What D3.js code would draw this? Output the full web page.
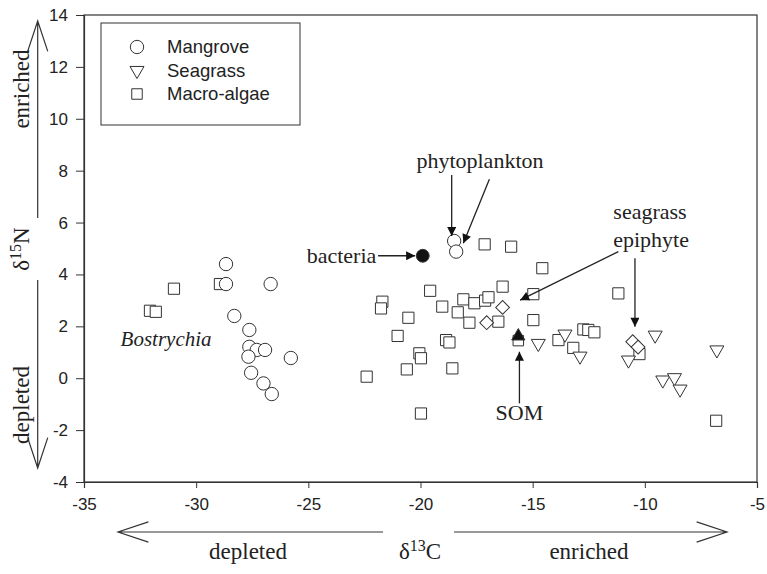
<!DOCTYPE html>
<html>
<head>
<meta charset="utf-8">
<title>d13C vs d15N</title>
<script src="https://d3js.org/d3.v7.min.js"></script>
<style>
  body { margin: 0; background: #fff; }
  text { fill: #222; }
  .tick text { font-family: "Liberation Sans", Arial, sans-serif; font-size: 17px; }
  .serif { font-family: "Liberation Serif", "Times New Roman", serif; font-size: 22px; }
</style>
</head>
<body>
<div id="chart"></div>
<script>
// values: [d13C, d15N]
var mangrove = [[-28.67,4.4],[-28.67,3.63],[-26.68,3.63],[-28.3,2.4],[-27.63,1.86],[-27.63,1.21],
  [-27.3,1.09],[-26.93,1.09],[-27.67,0.83],[-25.78,0.78],[-27.55,0.21],[-27.0,-0.2],[-26.63,-0.61]];
var phytoplankton = [[-18.5,5.29],[-18.41,4.88]];
var bacteria = [[-19.9,4.72]];
var seagrass = [[-14.75,1.34],[-13.56,1.7],[-12.89,0.85],[-10.73,0.7],[-9.54,1.66],[-6.79,1.09],
  [-9.2,-0.07],[-8.68,0.02],[-8.43,-0.42]];
var macroAlgae = [[-28.94,3.63],[-30.99,3.45],[-32.06,2.6],[-31.8,2.56],
  [-17.14,5.16],[-15.96,5.07],[-14.57,4.24],[-19.57,3.37],[-16.34,3.53],[-21.7,2.95],[-21.76,2.69],
  [-19.03,2.76],[-18.09,3.04],[-17.6,2.89],[-17.12,2.99],[-16.97,3.12],[-18.34,2.54],[-20.54,2.33],
  [-17.82,2.14],[-16.53,2.18],[-14.97,2.24],[-21.02,1.63],[-18.86,1.47],[-18.71,1.38],[-20.05,0.96],
  [-19.98,0.77],[-20.61,0.34],[-18.58,0.38],[-22.4,0.06],[-19.98,-1.36],
  [-11.18,3.27],[-14.97,3.24],[-13.85,1.47],[-12.74,1.88],[-12.52,1.86],[-12.25,1.77],[-13.19,1.17],
  [-10.24,0.93],[-6.82,-1.64]];
var epiphyte = [[-17.05,2.14],[-16.34,2.73],[-10.54,1.41],[-10.3,1.2]];
var somSquare = [[-15.64,1.45]];
var somTriangle = [[-15.64,1.62]];

var xTicks = [-35,-30,-25,-20,-15,-10,-5];
var yTicks = [-4,-2,0,2,4,6,8,10,12,14];
var legendItems = ["Mangrove", "Seagrass", "Macro-algae"];

// annotation arrows, in data units: [x1, y1, x2, y2] (head at x2,y2)
var arrows = [
  [-21.89,4.72,-20.24,4.72],
  [-18.61,7.83,-18.61,5.48],
  [-16.93,7.67,-18.09,5.2],
  [-11.18,4.88,-15.56,3.01],
  [-10.44,4.62,-10.44,1.98],
  [-15.59,-0.97,-15.59,1.02]
];

const width = 767, height = 574;
const margin = {top: 15, right: 10, bottom: 92, left: 84};
const w = width - margin.left - margin.right;
const h = height - margin.top - margin.bottom;

var svg = d3.select("#chart").append("svg")
  .attr("width", width).attr("height", height);

svg.append("defs").append("marker")
  .attr("id", "head").attr("viewBox", "0 -5 10 10")
  .attr("refX", 10).attr("refY", 0)
  .attr("markerWidth", 11).attr("markerHeight", 9)
  .attr("markerUnits", "userSpaceOnUse")
  .attr("orient", "auto")
  .append("path").attr("d", "M0,-5L10,0L0,5Z").attr("fill", "#111");

var g = svg.append("g").attr("transform", "translate(" + margin.left + "," + margin.top + ")");

var x = d3.scaleLinear().domain([-35, -5]).range([0, w]);
var y = d3.scaleLinear().domain([-4, 14]).range([h, 0]);

// frame
g.append("rect").attr("width", w).attr("height", h)
  .attr("fill", "none").attr("stroke", "#333").attr("stroke-width", 1.2);

// plain hyphen for negatives, like the original
var fmt = function(d) { return String(d); };
var xAxis = g.append("g").attr("transform", "translate(0," + h + ")")
  .call(d3.axisBottom(x).tickValues(xTicks).tickFormat(fmt).tickSize(6).tickPadding(10));
var yAxis = g.append("g")
  .call(d3.axisLeft(y).tickValues(yTicks).tickFormat(fmt).tickSize(8).tickPadding(8));
[xAxis, yAxis].forEach(function(a) {
  a.select(".domain").attr("stroke", "#333").attr("stroke-width", 1.2);
  a.selectAll(".tick line").attr("stroke", "#333");
  a.selectAll(".tick text").attr("fill", "#222");
});

function sym(type, size) { return d3.symbol().type(type).size(size)(); }

function drawPoints(data, type, size, fill, rotate) {
  g.append("g").selectAll("path").data(data).enter().append("path")
    .attr("d", sym(type, size))
    .attr("transform", function(d) {
      return "translate(" + x(d[0]) + "," + y(d[1]) + ")" + (rotate ? " rotate(" + rotate + ")" : "");
    })
    .attr("fill", fill).attr("stroke", "#333").attr("stroke-width", 1);
}

drawPoints(macroAlgae, d3.symbolSquare, 125, "#fff");
drawPoints(mangrove, d3.symbolCircle, 140, "#fff");
drawPoints(phytoplankton, d3.symbolCircle, 140, "#fff");
drawPoints(seagrass, d3.symbolTriangle, 85, "#fff", 180);
drawPoints(epiphyte, d3.symbolSquare, 95, "#fff", 45);
drawPoints(somSquare, d3.symbolSquare, 110, "#fff");
drawPoints(somTriangle, d3.symbolTriangle, 75, "#111");
drawPoints(bacteria, d3.symbolCircle, 130, "#111");

// annotation arrows
g.append("g").selectAll("line").data(arrows).enter().append("line")
  .attr("x1", function(d) { return x(d[0]); }).attr("y1", function(d) { return y(d[1]); })
  .attr("x2", function(d) { return x(d[2]); }).attr("y2", function(d) { return y(d[3]); })
  .attr("stroke", "#222").attr("stroke-width", 1.3)
  .attr("marker-end", "url(#head)");

// annotation labels
g.append("text").attr("class", "serif").attr("x", x(-21.97)).attr("y", y(4.72))
  .attr("text-anchor", "end").attr("dy", "0.33em").text("bacteria");
g.append("text").attr("class", "serif").attr("x", x(-17.35)).attr("y", y(8.1))
  .attr("text-anchor", "middle").text("phytoplankton");
g.append("text").attr("class", "serif").attr("x", x(-9.77)).attr("y", y(6.14))
  .attr("text-anchor", "middle").text("seagrass");
g.append("text").attr("class", "serif").attr("x", x(-9.72)).attr("y", y(5.07))
  .attr("text-anchor", "middle").text("epiphyte");
g.append("text").attr("class", "serif").attr("x", x(-15.59)).attr("y", y(-1.61))
  .attr("text-anchor", "middle").text("SOM");
g.append("text").attr("class", "serif").attr("x", x(-33.37)).attr("y", y(1.24))
  .style("font-style", "italic").style("font-size", "21px").text("Bostrychia");

// legend
var lg = g.append("g").attr("transform", "translate(17,8)");
lg.append("rect").attr("width", 199).attr("height", 102)
  .attr("fill", "#fff").attr("stroke", "#333").attr("stroke-width", 1);
var legendSyms = [[d3.symbolCircle, 140, 0], [d3.symbolTriangle, 85, 180], [d3.symbolSquare, 110, 0]];
legendItems.forEach(function(name, i) {
  var row = lg.append("g").attr("transform", "translate(36," + (24 + i * 23.5) + ")");
  row.append("path").attr("d", sym(legendSyms[i][0], legendSyms[i][1]))
    .attr("transform", legendSyms[i][2] ? "rotate(180)" : null)
    .attr("fill", "#fff").attr("stroke", "#333");
  row.append("text").attr("x", 30).attr("dy", "0.35em")
    .style("font-family", "Liberation Sans, Arial, sans-serif").style("font-size", "18.5px")
    .text(name);
});

// axis direction arrows (open heads)
function openArrow(x1, y1, x2, y2) {
  var ang = Math.atan2(y2 - y1, x2 - x1), L = 32, s = 0.32;
  svg.append("path")
    .attr("d", "M" + x1 + "," + y1 + "L" + x2 + "," + y2 +
      "M" + (x2 - L * Math.cos(ang - s)) + "," + (y2 - L * Math.sin(ang - s)) +
      "L" + x2 + "," + y2 +
      "L" + (x2 - L * Math.cos(ang + s)) + "," + (y2 - L * Math.sin(ang + s)))
    .attr("fill", "none").attr("stroke", "#333").attr("stroke-width", 1.2);
}
openArrow(383, 532, 118, 532);
openArrow(454, 532, 727, 532);
openArrow(37.7, 218, 37.7, 21);
openArrow(37.7, 280, 37.7, 468);

var bottomY = 559;
svg.append("text").attr("class", "serif").attr("x", 248).attr("y", bottomY)
  .attr("text-anchor", "middle").style("font-size", "23px").text("depleted");
svg.append("text").attr("class", "serif").attr("x", 589).attr("y", bottomY)
  .attr("text-anchor", "middle").style("font-size", "23px").text("enriched");
var xl = svg.append("text").attr("class", "serif").attr("x", 420).attr("y", bottomY)
  .attr("text-anchor", "middle").style("font-size", "23px");
xl.append("tspan").text("δ");
xl.append("tspan").attr("dy", -8).style("font-size", "16px").text("13");
xl.append("tspan").attr("dy", 8).text("C");

function vText(cx, cy, txt) {
  return svg.append("text").attr("class", "serif")
    .attr("transform", "translate(" + cx + "," + cy + ") rotate(-90)")
    .attr("text-anchor", "middle").style("font-size", "23px").text(txt);
}
vText(29, 89, "enriched");
vText(29, 405, "depleted");
var yl = svg.append("text").attr("class", "serif")
  .attr("transform", "translate(29,249) rotate(-90)").attr("text-anchor", "middle")
  .style("font-size", "23px");
yl.append("tspan").text("δ");
yl.append("tspan").attr("dy", -8).style("font-size", "16px").text("15");
yl.append("tspan").attr("dy", 8).text("N");
</script>
</body>
</html>
